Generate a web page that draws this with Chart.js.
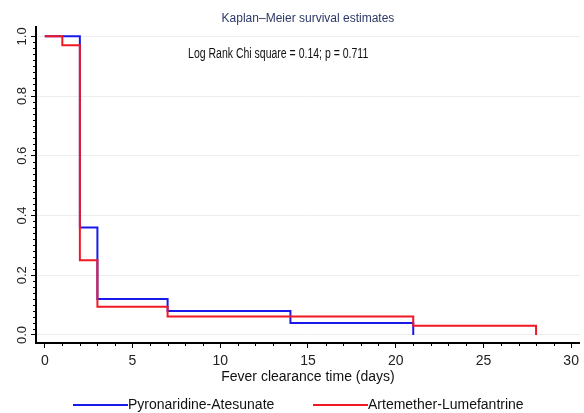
<!DOCTYPE html>
<html>
<head>
<meta charset="utf-8">
<script src="https://cdn.jsdelivr.net/npm/chart.js@4.4.1/dist/chart.umd.min.js"></script>
<style>
  html, body { margin: 0; padding: 0; background: #fff; }
  #wrap { width: 584px; height: 413px; }
</style>
</head>
<body>
<div id="wrap"><canvas id="kmChart" width="584" height="413"></canvas></div>
<script>
// survival step points (day, survival probability)
var pyroDays = [0, 2, 3, 7, 14, 21];
var pyroSurv = [1.0, 0.36, 0.12, 0.08, 0.04, 0.0];
var artDays = [0, 1, 2, 3, 7, 21, 28];
var artSurv = [1.0, 0.97, 0.25, 0.094, 0.062, 0.031, 0.0];

var xTicks = [0, 5, 10, 15, 20, 25, 30];
var yTicks = [0, 0.2, 0.4, 0.6, 0.8, 1.0];

var seriesNames = ['Pyronaridine-Atesunate', 'Artemether-Lumefantrine'];
var seriesColors = ['rgb(25,25,235)', 'rgb(240,25,35)'];

var noteText = 'Log Rank Chi square = 0.14; p = 0.711';
var noteAt = { x: 13.3, y: 0.94 };

var sansFont = "'Liberation Sans', Arial, sans-serif";

// legend layout: offsets of each item's line start from canvas centre
var legendOffsets = [-219, 21];
var legendLine = 55;

function toPoints(xs, ys) {
  return xs.map(function (x, i) { return { x: x, y: ys[i] }; });
}

// minor tick marks, the log rank note and the legend below the axis title
var extrasPlugin = {
  id: 'extras',
  afterDraw: function (chart) {
    var ctx = chart.ctx;
    var xs = chart.scales.x, ys = chart.scales.y;
    var area = chart.chartArea;
    ctx.save();
    ctx.strokeStyle = '#000';
    ctx.lineWidth = 1;
    ctx.beginPath();
    for (var d = 0; d <= 30; d++) {
      if (d % 5 === 0) continue;
      var px = Math.round(xs.getPixelForValue(d)) + 0.5;
      ctx.moveTo(px, area.bottom);
      ctx.lineTo(px, area.bottom + 3);
    }
    for (var k = 0; k <= 50; k++) {
      if (k % 10 === 0) continue;
      var py = Math.round(ys.getPixelForValue(k / 50)) + 0.5;
      ctx.moveTo(area.left - 3, py);
      ctx.lineTo(area.left, py);
    }
    ctx.stroke();

    // condensed note text
    ctx.save();
    ctx.translate(xs.getPixelForValue(noteAt.x), ys.getPixelForValue(noteAt.y));
    ctx.scale(0.75, 1);
    ctx.fillStyle = '#111';
    ctx.font = '14px ' + sansFont;
    ctx.textAlign = 'center';
    ctx.textBaseline = 'middle';
    ctx.fillText(noteText, 0, 0);
    ctx.restore();

    // legend
    var ly = chart.height - 8;
    var cx = chart.width / 2;
    ctx.font = '14px ' + sansFont;
    ctx.textAlign = 'left';
    ctx.textBaseline = 'middle';
    chart.data.datasets.forEach(function (ds, i) {
      var x0 = cx + legendOffsets[i];
      ctx.strokeStyle = ds.borderColor;
      ctx.lineWidth = 2;
      ctx.beginPath();
      ctx.moveTo(x0, ly);
      ctx.lineTo(x0 + legendLine, ly);
      ctx.stroke();
      ctx.fillStyle = '#111';
      ctx.fillText(ds.label, x0 + legendLine, ly);
    });
    ctx.restore();
  }
};

new Chart('kmChart', {
  type: 'line',
  data: {
    datasets: [{
      label: seriesNames[0],
      data: toPoints(pyroDays, pyroSurv),
      borderColor: seriesColors[0],
      backgroundColor: seriesColors[0],
      borderWidth: 2,
      stepped: true,
      pointRadius: 0,
      fill: false,
      order: 1
    }, {
      label: seriesNames[1],
      data: toPoints(artDays, artSurv),
      borderColor: seriesColors[1],
      backgroundColor: seriesColors[1],
      borderWidth: 2,
      stepped: true,
      pointRadius: 0,
      fill: false,
      order: 0
    }]
  },
  plugins: [extrasPlugin],
  options: {
    responsive: false,
    animation: false,
    layout: { padding: { left: 0, right: 1, top: 0, bottom: 27 } },
    plugins: {
      tooltip: { enabled: false },
      legend: { display: false },
      title: {
        display: true,
        text: 'Kaplan\u2013Meier survival estimates',
        color: '#2c3868',
        fullSize: false,
        font: { family: sansFont, size: 12, weight: 'normal' },
        padding: { top: 11, bottom: 2 }
      }
    },
    scales: {
      x: {
        type: 'linear',
        min: -0.5,
        max: 30.5,
        afterBuildTicks: function (scale) {
          scale.ticks = xTicks.map(function (v) { return { value: v }; });
        },
        afterFit: function (scale) { scale.height = 43; },
        border: { display: true, color: '#000', width: 2 },
        grid: { drawOnChartArea: false, drawTicks: true, tickLength: 5, tickColor: '#000', tickWidth: 1 },
        ticks: {
          color: '#222',
          font: { family: sansFont, size: 14 },
          padding: 5,
          maxRotation: 0,
          autoSkip: false
        },
        title: {
          display: true,
          text: 'Fever clearance time (days)',
          color: '#111',
          font: { family: sansFont, size: 14 },
          padding: { top: -2, bottom: 0 }
        }
      },
      y: {
        type: 'linear',
        min: -0.027,
        max: 1.03,
        afterBuildTicks: function (scale) {
          scale.ticks = yTicks.map(function (v) { return { value: v }; });
        },
        afterFit: function (scale) { scale.width = 36; },
        border: { display: true, color: '#000', width: 2 },
        grid: {
          drawOnChartArea: true,
          color: '#eceeee',
          drawTicks: true,
          tickLength: 5,
          tickColor: '#000',
          tickWidth: 1
        },
        ticks: {
          color: '#222',
          font: { family: sansFont, size: 13 },
          minRotation: 90,
          maxRotation: 90,
          crossAlign: 'center',
          padding: 0,
          autoSkip: false,
          callback: function (v) { return v.toFixed(1); }
        }
      }
    }
  }
});
</script>
</body>
</html>
